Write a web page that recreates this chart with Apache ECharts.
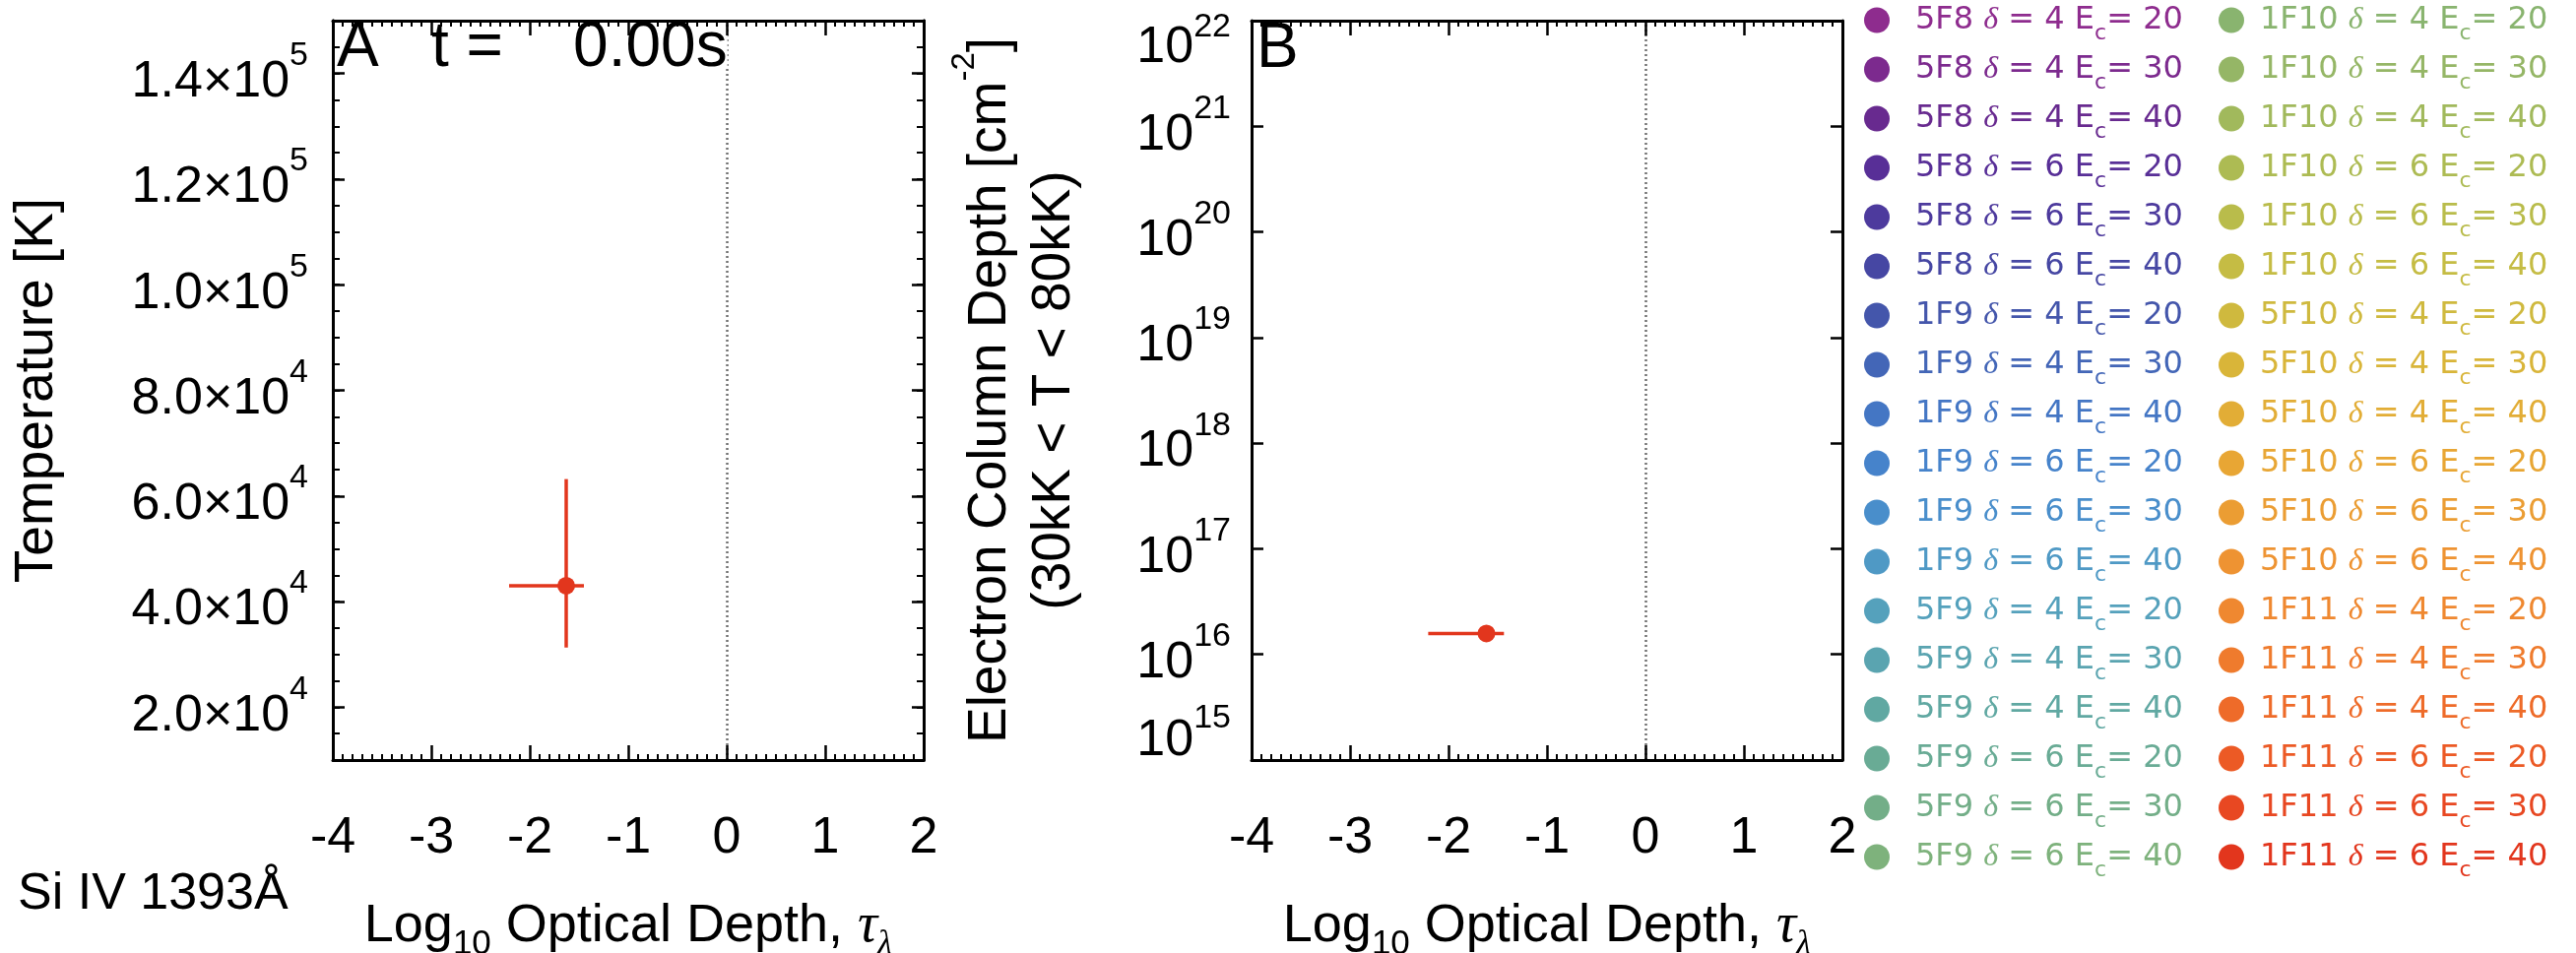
<!DOCTYPE html>
<html><head><meta charset="utf-8">
<script src="https://cdn.jsdelivr.net/npm/echarts@6/dist/echarts.min.js"></script>
<style>html,body{margin:0;padding:0;background:#fff}#c{width:2616px;height:968px}</style>
</head><body><div id="c"></div>
<script>
// ---------------- DATA ----------------
const models = ['5F8', '1F9', '5F9', '1F10', '5F10', '1F11'];
const deltas = [4, 6];
const cutoffs = [20, 30, 40];
const seriesColors = [
  '#8e2c8e','#7c2a8e','#682a8f','#582f97','#4d3a9d','#4647a3','#4456ab','#4366b7','#4476c4',
  '#4683cb','#498ecb','#4f99c5','#55a1bc','#5aa4b0','#60a8a2','#69ab95','#73ae88','#7eb27c',
  '#89b46f','#95b666','#a1b95c','#adbb53','#b9bc4b','#c5bc44','#cfb93e','#d9b539','#e2ad36',
  '#e8a634','#eb9d33','#ee9332','#ef8830','#ef7b2d','#ee6b29','#ec5a25','#e84822','#e2361d'
];
const activeRun = '1F11|6|40';
const tauRange = [-4, 2];
const tempRange = [1e4, 1.5e5];
const colRange = [1e15, 1e22];

// Panel A : temperature vs log10 optical depth
const tauA = [-1.63];
const tempA = [4.30e4];
const tauALo = [-2.21];
const tauAHi = [-1.45];
const tempALo = [3.13e4];
const tempAHi = [6.32e4];

// Panel B : electron column depth vs log10 optical depth
const tauB = [-1.615];
const colB = [1.58e16];
const tauBLo = [-2.206];
const tauBHi = [-1.437];

// ---------------- BUILD ----------------
const runNames = [];
models.forEach(m => deltas.forEach(d => cutoffs.forEach(e => runNames.push(m + '|' + d + '|' + e))));

const FONT = 'Liberation Sans';
const legendRich = {
  m: {fontFamily: 'DejaVu Sans', fontSize: 32, height: 32, lineHeight: 49, padding: [9, 0, 8, 0], verticalAlign: 'top'},
  d: {fontFamily: 'Liberation Serif', fontStyle: 'italic', fontSize: 32, height: 32, lineHeight: 49, padding: [9, 0, 8, 0], verticalAlign: 'top'},
  c: {fontFamily: 'DejaVu Sans', fontSize: 22, height: 22, lineHeight: 49, padding: [27, 0, 0, 0], verticalAlign: 'top'}
};
function legendFmt(name) {
  const p = name.split('|');
  return '{m|' + p[0] + ' }{d|δ}{m| = ' + p[1] + ' E}{c|c}{m|= ' + p[2] + '}';
}
// itemWidth sets the gap between the round icon and the label text
function legendCfg(list, left, boxW) {
  return {
    data: list.map(n => ({name: n, textStyle: {color: seriesColors[runNames.indexOf(n)]}})),
    left: left, top: -4, orient: 'vertical', padding: 0,
    itemWidth: boxW, itemHeight: 26, itemGap: 1,
    icon: 'circle', selectedMode: false, formatter: legendFmt,
    textStyle: {fontFamily: 'DejaVu Sans', fontSize: 32, lineHeight: 49, rich: legendRich}
  };
}

const xName = '{a|Log}{s|10}{a| Optical Depth, }{t|τ}{l|λ}';
const xNameStyle = {
  color: '#000', fontFamily: FONT,
  rich: {
    a: {fontSize: 54, height: 54, verticalAlign: 'top', fontFamily: FONT},
    s: {fontSize: 35, height: 35, padding: [28, 0, 0, 0], verticalAlign: 'top', fontFamily: FONT},
    t: {fontSize: 56, height: 54, verticalAlign: 'top', fontFamily: 'Liberation Serif', fontStyle: 'italic'},
    l: {fontSize: 35, height: 35, padding: [28, 0, 0, 0], verticalAlign: 'top', fontFamily: 'Liberation Serif', fontStyle: 'italic'}
  }
};

const lineBlack = {color: '#000', width: 3};
function xAx(grid, pos, show) {
  return {
    type: 'value', gridIndex: grid, position: pos, min: tauRange[0], max: tauRange[1], interval: 1, z: 4,
    axisLine: {show: true, onZero: false, lineStyle: lineBlack},
    axisTick: {show: true, inside: true, length: 15, lineStyle: {color: '#000', width: 2.5}},
    minorTick: {show: true, splitNumber: 10, length: 6, lineStyle: {color: '#000', width: 2}},
    splitLine: {show: false}, minorSplitLine: {show: false},
    axisLabel: {show: show, fontSize: 52, margin: 54, color: '#000', fontFamily: FONT},
    name: show ? xName : '', nameLocation: 'middle', nameGap: 142, nameMoveOverlap: false,
    nameTextStyle: xNameStyle
  };
}

const richA = {
  b: {fontSize: 52, height: 52, padding: [18, 0, 0, 0], verticalAlign: 'top', fontFamily: FONT},
  p: {fontSize: 34, height: 34, verticalAlign: 'top', fontFamily: FONT}
};
function fmtA(v) {
  if (Math.abs(v % 20000) > 1e-6) return '';
  const e = Math.floor(Math.log10(v) + 1e-9);
  const m = v / Math.pow(10, e);
  return '{b|' + m.toFixed(1) + '×10}{p|' + e + '}';
}
const richB = {
  b: {fontSize: 52, height: 52, padding: [18, 0, 0, 0], verticalAlign: 'top', fontFamily: FONT},
  p: {fontSize: 34, height: 34, verticalAlign: 'top', fontFamily: FONT},
  bx: {fontSize: 52, height: 52, padding: [56, 0, 0, 0], verticalAlign: 'top', fontFamily: FONT},
  px: {fontSize: 34, height: 34, padding: [44, 0, 0, 0], verticalAlign: 'top', fontFamily: FONT},
  bn: {fontSize: 52, height: 52, padding: [14, 0, 52, 0], verticalAlign: 'top', fontFamily: FONT},
  pn: {fontSize: 34, height: 34, verticalAlign: 'top', fontFamily: FONT}
};
function fmtB(v) {
  const e = Math.round(Math.log10(v));
  const t = e === 22 ? 'x' : (e === 15 ? 'n' : '');
  return '{b' + t + '|10}{p' + t + '|' + e + '}';
}

function yBase(grid, pos) {
  return {
    gridIndex: grid, position: pos, z: 4,
    axisLine: {show: true, onZero: false, lineStyle: lineBlack},
    splitLine: {show: false}, minorSplitLine: {show: false}
  };
}

const xAxes = [xAx(0, 'bottom', true), xAx(0, 'top', false), xAx(1, 'bottom', true), xAx(1, 'top', false)];

const yAxes = [
  Object.assign(yBase(0, 'left'), {
    type: 'value', min: tempRange[0], max: tempRange[1], splitNumber: 7,
    axisTick: {show: true, inside: true, length: 12, lineStyle: {color: '#000', width: 2.5}},
    axisLabel: {show: true, margin: 25, color: '#000', fontFamily: FONT, formatter: fmtA, rich: richA},
    name: 'Temperature [K]', nameLocation: 'middle', nameGap: 273, nameMoveOverlap: false,
    nameTextStyle: {fontSize: 55, color: '#000', fontFamily: FONT}
  }),
  Object.assign(yBase(0, 'left'), {
    type: 'value', min: tempRange[0], max: tempRange[1], interval: 5000,
    axisTick: {show: true, inside: true, length: 7, lineStyle: {color: '#000', width: 2}},
    axisLabel: {show: false}
  }),
  Object.assign(yBase(0, 'right'), {
    type: 'value', min: tempRange[0], max: tempRange[1], splitNumber: 7,
    axisTick: {show: true, inside: true, length: 12, lineStyle: {color: '#000', width: 2.5}},
    axisLabel: {show: false}
  }),
  Object.assign(yBase(0, 'right'), {
    type: 'value', min: tempRange[0], max: tempRange[1], interval: 5000,
    axisTick: {show: true, inside: true, length: 7, lineStyle: {color: '#000', width: 2}},
    axisLabel: {show: false}
  }),
  Object.assign(yBase(1, 'left'), {
    type: 'log', logBase: 10, min: colRange[0], max: colRange[1], splitNumber: 7,
    axisTick: {show: true, inside: true, length: 12, lineStyle: {color: '#000', width: 2.5}},
    minorTick: {show: false},
    axisLabel: {show: true, margin: 21, color: '#000', fontFamily: FONT, formatter: fmtB, rich: richB},
    name: '{a1|Electron Column Depth [cm}{p|-2}{a1|]}\n{a2|(30kK < T < 80kK)}',
    nameLocation: 'middle', nameGap: 168, nameMoveOverlap: false,
    nameTextStyle: {
      color: '#000', fontFamily: FONT,
      rich: {
        a1: {fontSize: 55, height: 55, padding: [15, 0, 5, 0], verticalAlign: 'top', fontFamily: FONT},
        p: {fontSize: 33, height: 33, verticalAlign: 'top', fontFamily: FONT},
        a2: {fontSize: 55, height: 55, padding: [5, 0, 5, 0], verticalAlign: 'top', fontFamily: FONT}
      }
    }
  }),
  Object.assign(yBase(1, 'right'), {
    type: 'log', logBase: 10, min: colRange[0], max: colRange[1], splitNumber: 7,
    axisTick: {show: true, inside: true, length: 12, lineStyle: {color: '#000', width: 2.5}},
    minorTick: {show: false},
    axisLabel: {show: false}
  })
];

const activeColor = seriesColors[runNames.indexOf(activeRun)];

function errRender(params, api) {
  const x = api.value(0), y = api.value(1);
  const xl = api.value(2), xh = api.value(3);
  const yl = api.value(4), yh = api.value(5);
  const st = {stroke: activeColor, lineWidth: 3.5};
  const ch = [];
  const a = api.coord([xl, y]), b = api.coord([xh, y]);
  ch.push({type: 'line', shape: {x1: a[0], y1: a[1], x2: b[0], y2: b[1]}, style: st});
  if (Number.isFinite(yl) && Number.isFinite(yh)) {
    const c = api.coord([x, yl]), d = api.coord([x, yh]);
    ch.push({type: 'line', shape: {x1: c[0], y1: c[1], x2: d[0], y2: d[1]}, style: st});
  }
  return {type: 'group', children: ch};
}
const zeroLine = {
  silent: true, z: 1, symbol: ['none', 'none'], animation: false,
  label: {show: false},
  lineStyle: {type: [2, 3], color: '#707070', width: 2.5},
  data: [{xAxis: 0}]
};

const series = [];
runNames.forEach((n, i) => {
  series.push({
    type: 'scatter', name: n, xAxisIndex: 0, yAxisIndex: 0, z: 3,
    symbol: 'circle', symbolSize: 18, itemStyle: {color: seriesColors[i], opacity: 1},
    data: n === activeRun ? tauA.map((x, k) => [x, tempA[k]]) : []
  });
});
series.push({
  type: 'scatter', name: activeRun, xAxisIndex: 2, yAxisIndex: 4, z: 3,
  symbol: 'circle', symbolSize: 18, itemStyle: {color: activeColor, opacity: 1},
  data: tauB.map((x, k) => [x, colB[k]])
});
series.push({
  type: 'custom', name: 'errA', xAxisIndex: 0, yAxisIndex: 0, z: 1, renderItem: errRender,
  data: tauA.map((x, k) => [x, tempA[k], tauALo[k], tauAHi[k], tempALo[k], tempAHi[k]]),
  markLine: zeroLine
});
series.push({
  type: 'custom', name: 'errB', xAxisIndex: 2, yAxisIndex: 4, z: 1, renderItem: errRender,
  data: tauB.map((x, k) => [x, colB[k], tauBLo[k], tauBHi[k]]),
  markLine: zeroLine
});

const chart = echarts.init(document.getElementById('c'), null, {renderer: 'canvas'});
chart.setOption({
  animation: false,
  backgroundColor: '#fff',
  textStyle: {fontFamily: FONT},
  grid: [
    {left: 338, top: 21, width: 600, height: 751, containLabel: false, outerBoundsMode: 'none'},
    {left: 1271, top: 21, width: 600, height: 751, containLabel: false, outerBoundsMode: 'none'}
  ],
  xAxis: xAxes,
  yAxis: yAxes,
  legend: [legendCfg(runNames.slice(0, 18), 1893, 68), legendCfg(runNames.slice(18), 2253, 48)],
  graphic: [
    {type: 'text', x: 18, y: 909, z: 2, style: {text: 'Si IV 1393Å', font: '52px "Liberation Sans"', fill: '#000', verticalAlign: 'middle', align: 'left'}},
    {type: 'text', x: 342, y: 49, z: 2, style: {text: 'A   t =    0.00s', font: '64px "Liberation Sans"', fill: '#000', verticalAlign: 'middle', align: 'left', backgroundColor: '#fff', lineHeight: 42}},
    {type: 'text', x: 1276, y: 50, z: 2, style: {text: 'B', font: '64px "Liberation Sans"', fill: '#000', verticalAlign: 'middle', align: 'left', backgroundColor: '#fff', lineHeight: 42}}
  ],
  series: series
});
</script>
</body></html>
